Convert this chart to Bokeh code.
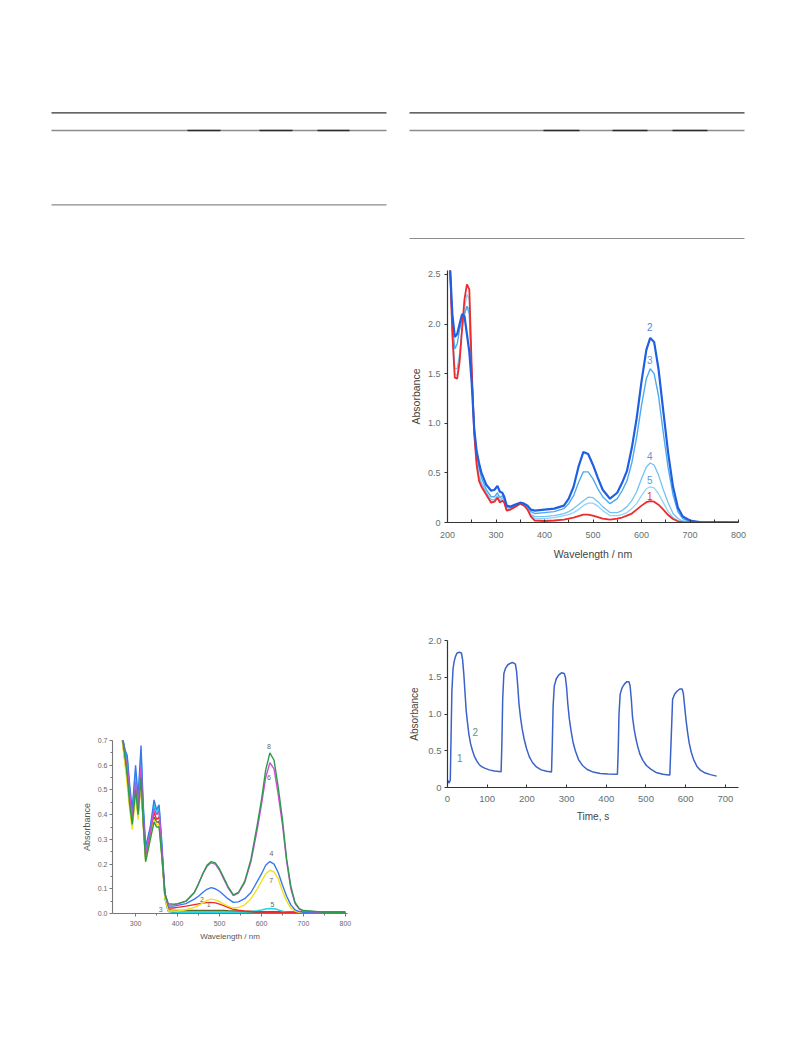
from bokeh.plotting import figure
from bokeh.layouts import column, row
from bokeh.models import Spacer, Range1d, FixedTicker, NumeralTickFormatter
from bokeh.embed import file_html
from bokeh.resources import INLINE
from bokeh.core.properties import value

FONT = "Liberation Sans"

# ---------------- Spectra (top right): wavelength / nm vs absorbance ----------------
wl_a = [205, 210, 215, 220, 225, 230, 235, 240, 245, 250, 255, 260, 265, 270, 280, 290,
        297, 303, 308, 313, 317, 322, 330, 340, 350, 358, 365, 372,
        380, 400, 420, 440, 450, 460, 470, 480, 490, 500, 510, 520, 535, 550, 560, 570,
        580, 590, 600, 610, 618, 626, 635, 645, 655, 665, 675, 685, 700, 720, 800]
a_1 = [2.6, 1.9, 1.46, 1.45, 1.62, 1.95, 2.25, 2.4, 2.35, 1.55, 0.9, 0.58, 0.42, 0.36, 0.28, 0.2,
       0.21, 0.25, 0.2, 0.22, 0.2, 0.12, 0.13, 0.16, 0.19, 0.17, 0.13, 0.06,
       0.02, 0.015, 0.02, 0.03, 0.04, 0.05, 0.065, 0.08, 0.08, 0.07, 0.055, 0.04, 0.03, 0.04, 0.05, 0.07,
       0.09, 0.13, 0.17, 0.205, 0.215, 0.21, 0.18, 0.13, 0.075, 0.035, 0.012, 0.004, 0.0, 0.0, 0.0]
a_2 = [2.6, 2.1, 1.87, 1.9, 2.0, 2.1, 2.08, 1.9, 1.72, 1.4, 0.95, 0.72, 0.6, 0.5, 0.38, 0.32,
       0.33, 0.37, 0.31, 0.3, 0.26, 0.17, 0.16, 0.18, 0.2, 0.19, 0.17, 0.13,
       0.12, 0.13, 0.14, 0.17, 0.24, 0.36, 0.56, 0.71, 0.69, 0.58, 0.45, 0.33, 0.24, 0.3, 0.4, 0.52,
       0.75, 1.05, 1.42, 1.74, 1.86, 1.82, 1.55, 1.12, 0.7, 0.36, 0.15, 0.06, 0.02, 0.005, 0.0]
a_3 = [2.6, 2.0, 1.75, 1.8, 1.95, 2.05, 2.1, 2.18, 2.1, 1.5, 0.95, 0.68, 0.55, 0.45, 0.33, 0.26,
       0.26, 0.3, 0.25, 0.27, 0.24, 0.15, 0.15, 0.17, 0.19, 0.18, 0.16, 0.11,
       0.09, 0.1, 0.11, 0.14, 0.19, 0.27, 0.4, 0.51, 0.51, 0.44, 0.34, 0.26, 0.19, 0.24, 0.32, 0.42,
       0.6, 0.86, 1.18, 1.45, 1.55, 1.5, 1.28, 0.9, 0.55, 0.28, 0.11, 0.04, 0.01, 0.0, 0.0]
a_4 = [2.6, 1.95, 1.55, 1.55, 1.7, 1.95, 2.1, 2.18, 2.15, 1.5, 0.92, 0.62, 0.47, 0.4, 0.3, 0.23,
       0.23, 0.27, 0.22, 0.25, 0.22, 0.13, 0.14, 0.16, 0.19, 0.17, 0.15, 0.08,
       0.06, 0.06, 0.07, 0.09, 0.11, 0.14, 0.18, 0.22, 0.255, 0.25, 0.21, 0.16, 0.1, 0.1, 0.12, 0.16,
       0.22, 0.31, 0.44, 0.56, 0.6, 0.58, 0.48, 0.33, 0.2, 0.09, 0.04, 0.015, 0.005, 0.0, 0.0]
a_5 = [2.6, 1.9, 1.5, 1.48, 1.65, 1.95, 2.15, 2.3, 2.25, 1.52, 0.9, 0.6, 0.45, 0.38, 0.29, 0.21,
       0.22, 0.26, 0.21, 0.23, 0.21, 0.12, 0.13, 0.16, 0.19, 0.17, 0.14, 0.07,
       0.04, 0.04, 0.05, 0.07, 0.08, 0.1, 0.13, 0.17, 0.195, 0.195, 0.165, 0.12, 0.07, 0.07, 0.08, 0.1,
       0.14, 0.19, 0.27, 0.34, 0.36, 0.35, 0.29, 0.2, 0.11, 0.05, 0.02, 0.008, 0.002, 0.0, 0.0]
curve_labels_a = ["2", "3", "4", "5", "1"]
label_wl_a = [617, 617, 617, 617, 617]
label_abs_a = [1.97, 1.64, 0.67, 0.43, 0.27]

# ---------------- Kinetics (bottom right): time / s vs absorbance ----------------
time_s = [0, 4, 7, 9, 11, 14, 17, 20, 24, 30, 35, 38, 41, 44, 47, 50, 54, 58, 63, 68, 74, 80, 87, 95, 105, 118, 135,
          137, 139, 142, 146, 152, 158, 165, 171, 174, 177, 180, 184, 188, 193, 199, 206, 214, 224, 236, 250, 262,
          264, 266, 269, 274, 280, 287, 294, 297, 300, 303, 307, 311, 316, 322, 330, 340, 352, 367, 385, 405, 428,
          430, 432, 435, 440, 446, 452, 457, 460, 463, 466, 470, 474, 479, 485, 492, 501, 512, 527, 543, 557,
          560, 563, 567, 572, 578, 585, 591, 594, 597, 601, 605, 609, 614, 620, 628, 637, 648, 662, 678]
abs_t = [0.1, 0.06, 0.1, 0.7, 1.3, 1.62, 1.72, 1.78, 1.83, 1.84, 1.83, 1.74, 1.55, 1.3, 1.05, 0.9, 0.72, 0.6, 0.5, 0.42, 0.36, 0.31, 0.28, 0.26, 0.24, 0.225, 0.215,
         0.6, 1.2, 1.55, 1.62, 1.67, 1.69, 1.7, 1.68, 1.58, 1.38, 1.14, 0.95, 0.8, 0.66, 0.53, 0.42, 0.34, 0.28, 0.24, 0.22, 0.21,
         0.6, 1.1, 1.38, 1.48, 1.53, 1.56, 1.55, 1.5, 1.36, 1.14, 0.93, 0.78, 0.62, 0.5, 0.38, 0.3, 0.245, 0.21, 0.19, 0.185, 0.18,
         0.5, 1.0, 1.27, 1.36, 1.41, 1.44, 1.44, 1.38, 1.2, 0.96, 0.8, 0.68, 0.56, 0.45, 0.37, 0.3, 0.25, 0.2, 0.18, 0.17,
         0.17, 0.6, 1.2, 1.27, 1.31, 1.34, 1.34, 1.28, 1.12, 0.91, 0.74, 0.6, 0.48, 0.38, 0.29, 0.235, 0.2, 0.175, 0.155]
kin_labels = ["1", "2"]
kin_label_t = [31, 70]
kin_label_abs = [0.4, 0.75]

# ---------------- Spectra (bottom left) ----------------
wl_b = [268, 275, 280, 286, 292, 300, 306, 313, 318, 324, 335, 344, 350, 356, 362, 370, 378,
        390, 400, 420, 440, 450, 460, 470, 480, 490, 500, 510, 520, 533, 545, 560, 575, 590, 600,
        610, 620, 630, 640, 650, 660, 670, 680, 690, 700, 750, 800]
b_1 = [0.71, 0.61, 0.55, 0.44, 0.36, 0.49, 0.4, 0.54, 0.37, 0.22, 0.31, 0.39, 0.37, 0.37, 0.25, 0.07, 0.015,
       0.012, 0.012, 0.012, 0.012, 0.012, 0.012, 0.012, 0.012, 0.012, 0.012, 0.012, 0.011, 0.01, 0.009, 0.008,
       0.008, 0.007, 0.007, 0.007, 0.007, 0.007, 0.007, 0.006, 0.006, 0.006, 0.006, 0.006, 0.006, 0.006, 0.006]
b_2 = [0.71, 0.62, 0.57, 0.45, 0.37, 0.5, 0.41, 0.55, 0.38, 0.23, 0.32, 0.41, 0.38, 0.39, 0.26, 0.07, 0.022,
       0.022, 0.025, 0.03, 0.036, 0.039, 0.042, 0.044, 0.045, 0.043, 0.038, 0.032, 0.025, 0.017, 0.013, 0.01,
       0.008, 0.006, 0.006, 0.005, 0.005, 0.005, 0.005, 0.004, 0.004, 0.004, 0.004, 0.004, 0.004, 0.004, 0.004]
b_3 = [0.72, 0.65, 0.62, 0.49, 0.4, 0.55, 0.44, 0.62, 0.42, 0.25, 0.34, 0.43, 0.4, 0.42, 0.28, 0.06, 0.008,
       0.005, 0.005, 0.005, 0.005, 0.005, 0.005, 0.005, 0.005, 0.005, 0.005, 0.005, 0.005, 0.005, 0.005, 0.005,
       0.005, 0.005, 0.005, 0.005, 0.005, 0.005, 0.005, 0.004, 0.004, 0.004, 0.004, 0.004, 0.004, 0.004, 0.004]
b_4 = [0.72, 0.66, 0.64, 0.52, 0.42, 0.6, 0.47, 0.68, 0.45, 0.27, 0.35, 0.46, 0.42, 0.44, 0.3, 0.08, 0.03,
       0.03, 0.033, 0.04, 0.058, 0.07, 0.085, 0.098, 0.105, 0.1, 0.09, 0.075, 0.06, 0.045, 0.047, 0.06,
       0.085, 0.13, 0.16, 0.195, 0.21, 0.2, 0.165, 0.115, 0.07, 0.035, 0.015, 0.008, 0.005, 0.002, 0.002]
b_5 = [0.72, 0.66, 0.63, 0.5, 0.41, 0.57, 0.46, 0.65, 0.43, 0.25, 0.34, 0.44, 0.41, 0.43, 0.28, 0.06, 0.01,
       0.008, 0.006, 0.005, 0.005, 0.005, 0.005, 0.005, 0.005, 0.005, 0.005, 0.005, 0.005, 0.005, 0.005, 0.006,
       0.008, 0.011, 0.014, 0.018, 0.02, 0.019, 0.015, 0.009, 0.005, 0.003, 0.002, 0.001, 0.001, 0.001, 0.001]
b_6 = [0.72, 0.64, 0.6, 0.48, 0.38, 0.53, 0.42, 0.6, 0.4, 0.24, 0.33, 0.42, 0.4, 0.41, 0.27, 0.08, 0.035,
       0.035, 0.038, 0.05, 0.085, 0.12, 0.16, 0.19, 0.205, 0.2, 0.175, 0.14, 0.105, 0.072, 0.082, 0.125,
       0.21, 0.34, 0.44, 0.55, 0.61, 0.585, 0.48, 0.36, 0.21, 0.1, 0.04, 0.018, 0.01, 0.004, 0.003]
b_7 = [0.7, 0.6, 0.52, 0.42, 0.34, 0.48, 0.38, 0.53, 0.36, 0.21, 0.3, 0.38, 0.36, 0.36, 0.24, 0.06, 0.01,
       0.01, 0.01, 0.015, 0.025, 0.033, 0.042, 0.053, 0.058, 0.055, 0.048, 0.038, 0.03, 0.022, 0.024, 0.035,
       0.06, 0.1, 0.13, 0.16, 0.175, 0.168, 0.14, 0.09, 0.05, 0.022, 0.01, 0.005, 0.003, 0.002, 0.002]
b_8 = [0.72, 0.63, 0.56, 0.44, 0.36, 0.5, 0.4, 0.55, 0.37, 0.21, 0.3, 0.37, 0.35, 0.35, 0.24, 0.08, 0.04,
       0.038, 0.04, 0.05, 0.085, 0.12, 0.16, 0.195, 0.21, 0.205, 0.18, 0.145, 0.11, 0.075, 0.085, 0.13,
       0.22, 0.36, 0.46, 0.58, 0.65, 0.62, 0.51, 0.38, 0.22, 0.11, 0.045, 0.02, 0.012, 0.005, 0.004]
curve_labels_b = ["8", "6", "4", "7", "5", "3", "2", "1"]
label_wl_b = [618, 618, 624, 623, 626, 360, 458, 474]
label_abs_b = [0.676, 0.552, 0.242, 0.134, 0.036, 0.016, 0.055, 0.036]

for series, xs in [((a_1, a_2, a_3, a_4, a_5), wl_a), ((abs_t,), time_s),
                   ((b_1, b_2, b_3, b_4, b_5, b_6, b_7, b_8), wl_b)]:
    for ys in series:
        if len(ys) != len(xs):
            raise ValueError(f"length mismatch: {len(ys)} vs {len(xs)}")


def make_fig(w, h, xr, yr, left, right, top, bottom):
    p = figure(width=w, height=h, x_range=Range1d(*xr), y_range=Range1d(*yr),
               min_border_left=left, min_border_right=right,
               min_border_top=top, min_border_bottom=bottom,
               toolbar_location=None, output_backend="svg")
    p.title.visible = False
    p.grid.visible = False
    p.outline_line_color = None
    return p


def style_axis(ax, tick_px, title_px, tick_color, title_color, line_color,
               tick_in, tick_out, label_standoff, title_standoff, lw=1.2):
    ax.axis_line_color = line_color
    ax.axis_line_width = lw
    ax.major_tick_line_color = line_color
    ax.minor_tick_line_color = line_color
    ax.major_tick_line_width = 1
    ax.minor_tick_line_width = 1
    ax.major_tick_in = tick_in
    ax.major_tick_out = tick_out
    ax.minor_tick_in = tick_in
    ax.minor_tick_out = tick_out
    ax.major_label_text_font = FONT
    ax.major_label_text_font_size = f"{tick_px}px"
    ax.major_label_text_color = tick_color
    ax.axis_label_text_font = FONT
    ax.axis_label_text_font_size = f"{title_px}px"
    ax.axis_label_text_font_style = "normal"
    ax.axis_label_text_color = title_color
    ax.major_label_standoff = label_standoff
    ax.axis_label_standoff = title_standoff


# ---- table rules across the top of the page (page pixel coordinates) ----
rule_x0 = [51, 409, 51, 409, 51, 409]
rule_x1 = [386, 744, 386, 744, 386, 744]
rule_y = [112.3, 112.3, 130, 130, 204.3, 238]
rule_color = ["#333333", "#333333", "#8c8c8c", "#8c8c8c", "#8c8c8c", "#8c8c8c"]
rule_width = [1.2, 1.2, 1.3, 1.3, 1.2, 1.2]
bold_x0 = [187, 259, 317, 543, 612, 672]
bold_x1 = [220, 292, 349, 579, 647, 707]
bold_y = [130, 130, 130, 130, 130, 130]

rules = figure(width=793, height=145, x_range=Range1d(0, 793), y_range=Range1d(245, 100),
               x_axis_type=None, y_axis_type=None, min_border=0,
               toolbar_location=None, output_backend="svg")
rules.title.visible = False
rules.grid.visible = False
rules.outline_line_color = None
rules.segment(x0=rule_x0, y0=rule_y, x1=rule_x1, y1=rule_y,
              line_color=rule_color, line_width=rule_width)
rules.segment(x0=bold_x0, y0=bold_y, x1=bold_x1, y1=bold_y,
              line_color="#2e2e2e", line_width=1.6)

# ---- top-right spectra ----
pa = make_fig(393, 322, (200, 800), (0, 2.54), 46, 55, 25, 45)
for ys, col, lw in [(a_5, "#93d2f7", 1.3), (a_4, "#74c2f4", 1.3), (a_3, "#4fa9ee", 1.4),
                    (a_1, "#ee2b2b", 1.8), (a_2, "#1f5fe0", 2.2)]:
    pa.line(wl_a, ys, line_color=col, line_width=lw)
pa.text(x=label_wl_a, y=label_abs_a, text=curve_labels_a,
        text_color=["#4f86d8", "#5a9ae0", "#5a9ae0", "#5a9ae0", "#ee2b2b"],
        text_font=value(FONT), text_font_size="10px",
        text_align="center", text_baseline="middle")
pa.xaxis.ticker = FixedTicker(ticks=[200, 300, 400, 500, 600, 700, 800],
                              minor_ticks=[250, 350, 450, 550, 650, 750])
pa.yaxis.ticker = FixedTicker(ticks=[0, 0.5, 1.0, 1.5, 2.0, 2.5], minor_ticks=[])
pa.yaxis.formatter = NumeralTickFormatter(format="0.0")
pa.yaxis.major_label_overrides = {0: "0"}
pa.xaxis.axis_label = "Wavelength / nm"
pa.yaxis.axis_label = "Absorbance"
style_axis(pa.xaxis[0], 9, 10.5, "#5f7070", "#454545", "#333333", 3, 0, 9, 7)
style_axis(pa.yaxis[0], 9, 10.5, "#5f7070", "#4a3f38", "#333333", 0, 3, 4, 3)

# ---- bottom-right kinetics ----
pk = make_fig(393, 207, (0, 733), (0, 2.0), 47, 53, 20, 40)
pk.line(time_s, abs_t, line_color="#3b62c8", line_width=1.5)
pk.text(x=kin_label_t, y=kin_label_abs, text=kin_labels, text_color="#6f8f80",
        text_font=value(FONT), text_font_size="10px",
        text_align="center", text_baseline="middle")
pk.xaxis.ticker = FixedTicker(ticks=[0, 100, 200, 300, 400, 500, 600, 700], minor_ticks=[])
pk.yaxis.ticker = FixedTicker(ticks=[0, 0.5, 1.0, 1.5, 2.0], minor_ticks=[])
pk.yaxis.formatter = NumeralTickFormatter(format="0.0")
pk.yaxis.major_label_overrides = {0: "0"}
pk.xaxis.axis_label = "Time, s"
pk.yaxis.axis_label = "Absorbance"
style_axis(pk.xaxis[0], 9.5, 10, "#5f7070", "#454545", "#333333", 3, 0, 8, 6)
style_axis(pk.yaxis[0], 9.5, 10, "#5f7070", "#4a3f38", "#333333", 0, 3, 3, 5)

# ---- bottom-left spectra ----
pb = make_fig(400, 223, (245, 805), (0, 0.7), 112, 53, 20, 30)
for ys, col in [(b_3, "#1fa5a5"), (b_1, "#5a6a2a"), (b_5, "#22d6e6"), (b_2, "#ee2a2a"),
                (b_7, "#f2e21e"), (b_4, "#3a78f0"), (b_6, "#d44cdc"), (b_8, "#2e9a4c")]:
    pb.line(wl_b, ys, line_color=col, line_width=1.4)
pb.text(x=label_wl_b, y=label_abs_b, text=curve_labels_b, text_color="#666666",
        text_font=value(FONT), text_font_size="7px",
        text_align="center", text_baseline="middle")
pb.xaxis.ticker = FixedTicker(ticks=[300, 400, 500, 600, 700, 800],
                              minor_ticks=[350, 450, 550, 650, 750])
pb.yaxis.ticker = FixedTicker(ticks=[0, 0.1, 0.2, 0.3, 0.4, 0.5, 0.6, 0.7],
                              minor_ticks=[0.05, 0.15, 0.25, 0.35, 0.45, 0.55, 0.65])
pb.yaxis.formatter = NumeralTickFormatter(format="0.0")
pb.xaxis.axis_label = "Wavelength / nm"
pb.yaxis.axis_label = "Absorbance"
style_axis(pb.xaxis[0], 7, 8, "#666666", "#555555", "#777777", 0, 3, 4, 3, lw=1.1)
style_axis(pb.yaxis[0], 7, 9, "#666666", "#555555", "#777777", 0, 3, 2, 3, lw=1.1)
pb.xaxis.minor_tick_out = 2
pb.yaxis.minor_tick_out = 2

left_col = column(Spacer(width=400, height=475), pb)
right_col = column(pa, Spacer(width=393, height=53), pk)
page = column(Spacer(width=793, height=100), rules, row(left_col, right_col))

open("out.html", "w").write(file_html(page, INLINE))
